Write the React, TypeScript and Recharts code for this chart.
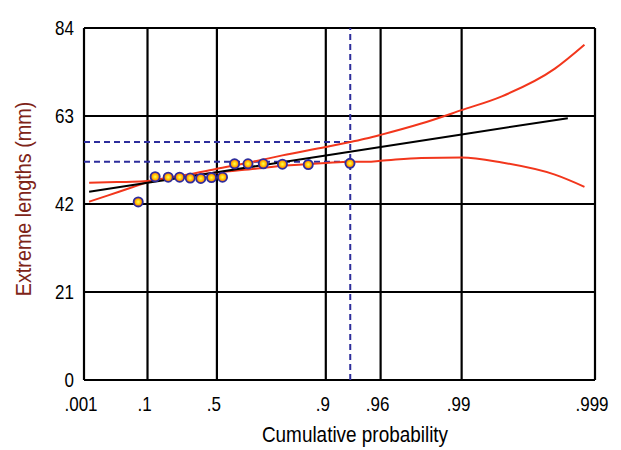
import {
    ComposedChart, Line, Scatter, XAxis, YAxis, CartesianGrid, ReferenceLine,
} from "recharts";

// Gumbel probability paper: x positions are the reduced variate -ln(-ln p)
const reduced = (p: number) => -Math.log(-Math.log(p));

const probTicks = [0.001, 0.1, 0.5, 0.9, 0.96, 0.99, 0.999];
const probLabels = [".001", ".1", ".5", ".9", ".96", ".99", ".999"];
const lengthTicks = [0, 21, 42, 63, 84];

// observed extremes, plotting position i/(n+1)
const obsProb = [0.067, 0.133, 0.2, 0.267, 0.333, 0.4, 0.467, 0.533, 0.6, 0.667, 0.733, 0.8, 0.867, 0.933];
const obsValue = [42.5, 48.5, 48.4, 48.4, 48.2, 48.1, 48.3, 48.4, 51.6, 51.6, 51.6, 51.5, 51.4, 51.7];

// fitted line
const fitProb = [0.0018, 0.1, 0.5, 0.9, 0.96, 0.99, 0.9984];
const fitValue = [44.9, 47.05, 49.6, 53.6, 55.61, 58.59, 62.49];

// confidence curves
const bandProb = [0.0018, 0.01, 0.05, 0.1, 0.2, 0.3, 0.5, 0.7, 0.8, 0.9, 0.9333, 0.95, 0.96, 0.98, 0.99, 0.995, 0.998, 0.9988];
const bandA = [42.55, 44.0, 46.0, 47.2, 48.3, 48.9, 50.4, 52.2, 53.6, 55.6, 56.8, 57.7, 58.5, 61.2, 64.4, 67.7, 74.3, 80.0];
const bandB = [47.1, 47.2, 47.3, 47.5, 48.1, 48.5, 49.5, 50.4, 51.1, 51.8, 52.1, 52.1, 52.3, 53.0, 53.1, 51.9, 49.0, 46.1];

// dashed read-off lines
const markProb = 0.9333;
const markUpper = 56.8;
const markLower = 52.1;

const toPts = (ps: number[], vs: number[]) => ps.map((p, i) => ({ u: reduced(p), v: vs[i] }));

const obsData = toPts(obsProb, obsValue);
const fitData = toPts(fitProb, fitValue);
const bandAData = toPts(bandProb, bandA);
const bandBData = toPts(bandProb, bandB);

const xTicks = probTicks.map(reduced);
const xMin = reduced(0.001);
const xMax = reduced(0.999);

const FONT = "Liberation Sans, Arial, sans-serif";
const RED = "#f2361c";
const NAVY = "#2d2d9c";

function Marker(props: any) {
    const { cx, cy } = props;
    if (cx == null || cy == null) return null;
    return <circle cx={cx} cy={cy} r={4.6} fill="url(#mk)" stroke={NAVY} strokeWidth={1.8} />;
}

// narrow, tall lettering like the original
function XTick({ x, y, payload }: any) {
    const i = xTicks.findIndex(t => Math.abs(t - payload.value) < 1e-6);
    return (
        <text transform={`translate(${x - 3},${y}) scale(0.85,1)`} textAnchor="middle" dy="0.74em"
            fill="#000" fontSize={20} fontFamily={FONT}>
            {probLabels[i] ?? ""}
        </text>
    );
}

function YTick({ x, y, payload }: any) {
    return (
        <text transform={`translate(${x},${y}) scale(0.85,1)`} textAnchor="end" dy="0.36em"
            fill="#000" fontSize={20} fontFamily={FONT}>
            {payload.value}
        </text>
    );
}

export default function App() {
    return (
        <div style={{ position: "absolute", left: 0, top: 0, width: 621, height: 450, background: "#fff" }}>
            <ComposedChart width={621} height={450} margin={{ top: 28, right: 26, left: 0, bottom: 0 }}>
                <defs>
                    <radialGradient id="mk">
                        <stop offset="0%" stopColor="#ffff50" />
                        <stop offset="55%" stopColor="#ffc000" />
                        <stop offset="100%" stopColor="#ff4a20" />
                    </radialGradient>
                </defs>
                <CartesianGrid stroke="#000" strokeWidth={2.2} />
                <XAxis
                    type="number" dataKey="u" domain={[xMin, xMax]} ticks={xTicks} interval={0}
                    allowDataOverflow height={70} tickLine={false} axisLine={false}
                    tickMargin={10} tick={<XTick />}
                    label={() => (
                        <text transform="translate(355,442) scale(0.88,1)" textAnchor="middle"
                            fill="#000" fontSize={21.5} fontFamily={FONT}>
                            Cumulative probability
                        </text>
                    )}
                />
                <YAxis
                    type="number" domain={[0, 84]} ticks={lengthTicks} width={84} interval={0}
                    tickLine={false} axisLine={false} tickMargin={4} tick={<YTick />}
                    label={() => (
                        <text transform="translate(31,199) rotate(-90) scale(0.9,1)" textAnchor="middle"
                            fill="#7e2418" fontSize={22} fontFamily={FONT}>
                            Extreme lengths (mm)
                        </text>
                    )}
                />
                <ReferenceLine x={reduced(markProb)} stroke={NAVY} strokeWidth={2} strokeDasharray="6 4" />
                <ReferenceLine
                    segment={[{ x: xMin, y: markUpper }, { x: reduced(markProb), y: markUpper }]}
                    stroke={NAVY} strokeWidth={2} strokeDasharray="6 4"
                />
                <ReferenceLine
                    segment={[{ x: xMin, y: markLower }, { x: reduced(markProb), y: markLower }]}
                    stroke={NAVY} strokeWidth={2} strokeDasharray="6 4"
                />
                <Line data={bandAData} dataKey="v" type="monotone" stroke={RED} strokeWidth={2} dot={false} isAnimationActive={false} />
                <Line data={bandBData} dataKey="v" type="monotone" stroke={RED} strokeWidth={2} dot={false} isAnimationActive={false} />
                <Line data={fitData} dataKey="v" type="linear" stroke="#000" strokeWidth={2} dot={false} isAnimationActive={false} />
                <Scatter data={obsData} dataKey="v" shape={<Marker />} isAnimationActive={false} />
            </ComposedChart>
        </div>
    );
}
